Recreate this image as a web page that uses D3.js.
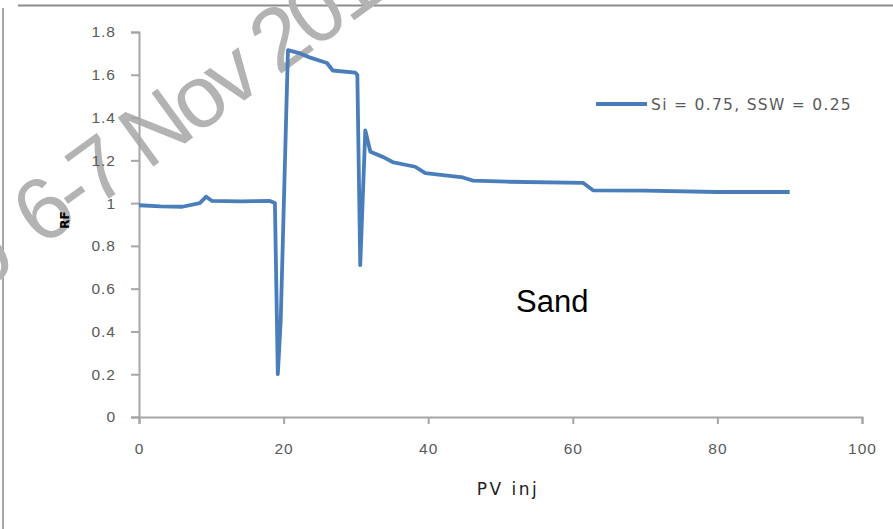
<!DOCTYPE html>
<html>
<head>
<meta charset="utf-8">
<script src="https://cdn.jsdelivr.net/npm/d3@7"></script>
<style>
  body { margin: 0; background: #fff; }
  svg { display: block; font-family: "DejaVu Sans", sans-serif; }
  .tick text { fill: #595959; font-size: 15.5px; letter-spacing: 1px; }
  .domain, .tick line { stroke: #a6a6a6; stroke-width: 2; }
  .watermark { fill: #b3b3b3; font-family: "Liberation Sans", Arial, sans-serif; font-size: 88px; letter-spacing: -5px; }
</style>
</head>
<body>
<svg id="chart"></svg>
<script>
// ~~~ data ~~~
var pvInj = [0, 3, 6, 8.4, 9.3, 10.1, 14, 18.1, 18.8, 19.2, 19.6, 20.6, 22.3, 23.7, 26, 26.8, 29.9, 30.2, 30.6, 31.3, 32, 33.8, 35.2, 38.2, 39.6, 44.8, 46.2, 50.9, 61.4, 62.8, 70, 80, 90];
var rf    = [0.99, 0.985, 0.983, 1.0, 1.03, 1.01, 1.008, 1.01, 1.0, 0.2, 0.45, 1.715, 1.70, 1.68, 1.655, 1.62, 1.61, 1.60, 0.71, 1.34, 1.24, 1.215, 1.19, 1.17, 1.14, 1.12, 1.105, 1.10, 1.095, 1.06, 1.058, 1.052, 1.052];
var xTicks = [0, 20, 40, 60, 80, 100];
var yTicks = [0, 0.2, 0.4, 0.6, 0.8, 1, 1.2, 1.4, 1.6, 1.8];
var seriesName = "Si = 0.75, SSW = 0.25";

var width = 893, height = 529;
var svg = d3.select("#chart").attr("width", width).attr("height", height);

// chart frame (only top and left edges show)
svg.append("line").attr("x1", 18).attr("x2", width).attr("y1", 5.5).attr("y2", 5.5)
  .attr("stroke", "#8c8c8c").attr("stroke-width", 2);
svg.append("line").attr("x1", 3).attr("x2", 3).attr("y1", 8).attr("y2", height)
  .attr("stroke", "#a6a6a6").attr("stroke-width", 2);

// watermark behind everything (runs off the top/left edge like the original)
svg.append("text").attr("class", "watermark")
  .attr("transform", "translate(-20,294) rotate(-36)").text("0");
svg.append("text").attr("class", "watermark")
  .attr("transform", "translate(41,248) rotate(-36)").text("6-7 Nov 2017");

var x = d3.scaleLinear().domain([0, 100]).range([139, 862]);
var y = d3.scaleLinear().domain([0, 1.8]).range([417, 32]);

// axes
svg.append("g").attr("transform", "translate(0,417)")
  .call(d3.axisBottom(x).tickValues(xTicks).tickSize(7).tickPadding(19).tickFormat(d3.format("d")));
svg.append("g").attr("transform", "translate(139,0)")
  .call(d3.axisLeft(y).tickValues(yTicks).tickSize(8).tickPadding(15).tickFormat(function(d){ return d3.format("~g")(d); }));

// the series
var line = d3.line().x(function(d, i){ return x(pvInj[i]); }).y(function(d){ return y(d); });
svg.append("path").datum(rf)
  .attr("d", line)
  .attr("fill", "none")
  .attr("stroke", "#4a7ebb")
  .attr("stroke-width", 3.8)
  .attr("stroke-linejoin", "round");

// axis titles
svg.append("text").attr("x", 508).attr("y", 495).attr("text-anchor", "middle")
  .attr("font-size", 17).attr("letter-spacing", 2.5).attr("fill", "#222").text("PV inj");
svg.append("text").attr("transform", "translate(69,220) rotate(-90)").attr("text-anchor", "middle")
  .attr("font-size", 12).attr("font-weight", "bold").attr("fill", "#000").text("RF");

// annotation
svg.append("text").attr("x", 516).attr("y", 312).attr("font-size", 31)
  .attr("font-family", "Liberation Sans, Arial, sans-serif").attr("fill", "#000").text("Sand");

// legend
svg.append("line").attr("x1", 596).attr("x2", 647).attr("y1", 104).attr("y2", 104)
  .attr("stroke", "#4a7ebb").attr("stroke-width", 3.8);
svg.append("text").attr("x", 651).attr("y", 110).attr("font-size", 15.5).attr("letter-spacing", 1.3)
  .attr("fill", "#595959").text(seriesName);
</script>
</body>
</html>
